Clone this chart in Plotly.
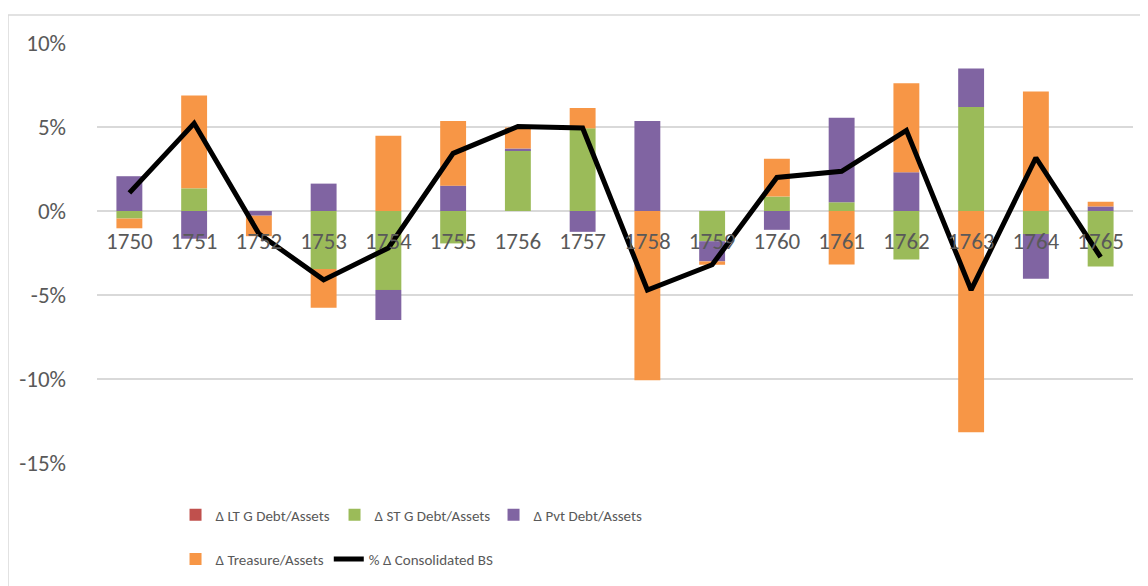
import plotly.graph_objects as go

years = [str(y) for y in range(1750, 1766)]
lt_debt = [0.0] * 16
st_debt = [-0.45, 1.35, 0.0, -3.45, -4.70, -1.93, 3.62, 4.92, 0.0, -1.80, 0.86, 0.52, -2.89, 6.19, -1.37, -3.31]
pvt_debt = [2.07, -1.65, -0.28, 1.63, -1.79, 1.51, 0.10, -1.24, 5.36, -1.20, -1.12, 5.03, 2.31, 2.29, -2.67, 0.27]
treasure = [-0.58, 5.53, -1.22, -2.31, 4.48, 3.85, 1.25, 1.21, -10.07, -0.20, 2.25, -3.19, 5.29, -13.17, 7.11, 0.28]
cons_bs = [1.08, 5.22, -1.35, -4.10, -2.20, 3.43, 5.03, 4.94, -4.70, -3.20, 2.00, 2.36, 4.80, -4.70, 3.17, -2.75]

y_ticks = [-15, -10, -5, 0, 5, 10]
y_tick_text = ["-15%", "-10%", "-5%", "0%", "5%", "10%"]

FONT = "Carlito"
GRAY = "#595959"
GRID = "#d9d9d9"

fig = go.Figure()
bar_series = [
    ("Δ LT G Debt/Assets", lt_debt, "#C0504D"),
    ("Δ ST G Debt/Assets", st_debt, "#9BBB59"),
    ("Δ Pvt Debt/Assets", pvt_debt, "#8064A2"),
    ("Δ Treasure/Assets", treasure, "#F79646"),
]
for i, (name, vals, col) in enumerate(bar_series):
    fig.add_trace(go.Bar(
        x=years, y=vals, name=name,
        marker=dict(color=col, line=dict(width=0)),
        legend="legend" if i < 3 else "legend2",
    ))
fig.add_trace(go.Scatter(
    x=years, y=cons_bs, name="% Δ Consolidated BS", mode="lines",
    line=dict(color="black", width=5),
    legend="legend2",
))

legend_common = dict(orientation="h", x=0.0758, xanchor="left", yanchor="middle",
                     font=dict(size=15, color=GRAY, family=FONT),
                     bgcolor="rgba(0,0,0,0)")

fig.update_layout(
    width=1148, height=586,
    margin=dict(l=89, r=23, t=35, b=131, autoexpand=False),
    paper_bgcolor="white", plot_bgcolor="white",
    barmode="relative", bargap=0.6,
    font=dict(family=FONT, color=GRAY, size=20),
    showlegend=True,
    legend=dict(y=-0.124, entrywidth=114, **legend_common),
    legend2=dict(y=-0.229, **legend_common),
    xaxis=dict(
        type="category", range=[-0.5, 15.5],
        anchor="free", position=0.6,
        showline=False, showgrid=False, ticks="",
        ticklabelstandoff=14,
        tickfont=dict(size=23, color=GRAY, family=FONT),
    ),
    yaxis=dict(
        range=[-15, 10], tickvals=y_ticks, ticktext=y_tick_text,
        showgrid=True, gridcolor=GRID, gridwidth=1.5,
        zeroline=True, zerolinecolor=GRID, zerolinewidth=1.5,
        showline=False, ticks="", ticklabelstandoff=30,
        tickfont=dict(size=23, color=GRAY, family=FONT),
    ),
    shapes=[dict(type="rect", xref="paper", yref="paper",
                 x0=-0.0859, x1=1.0164, y0=-0.302, y1=1.0667,
                 line=dict(color=GRID, width=1.5), layer="below")],
)

fig.write_html("out.html")
